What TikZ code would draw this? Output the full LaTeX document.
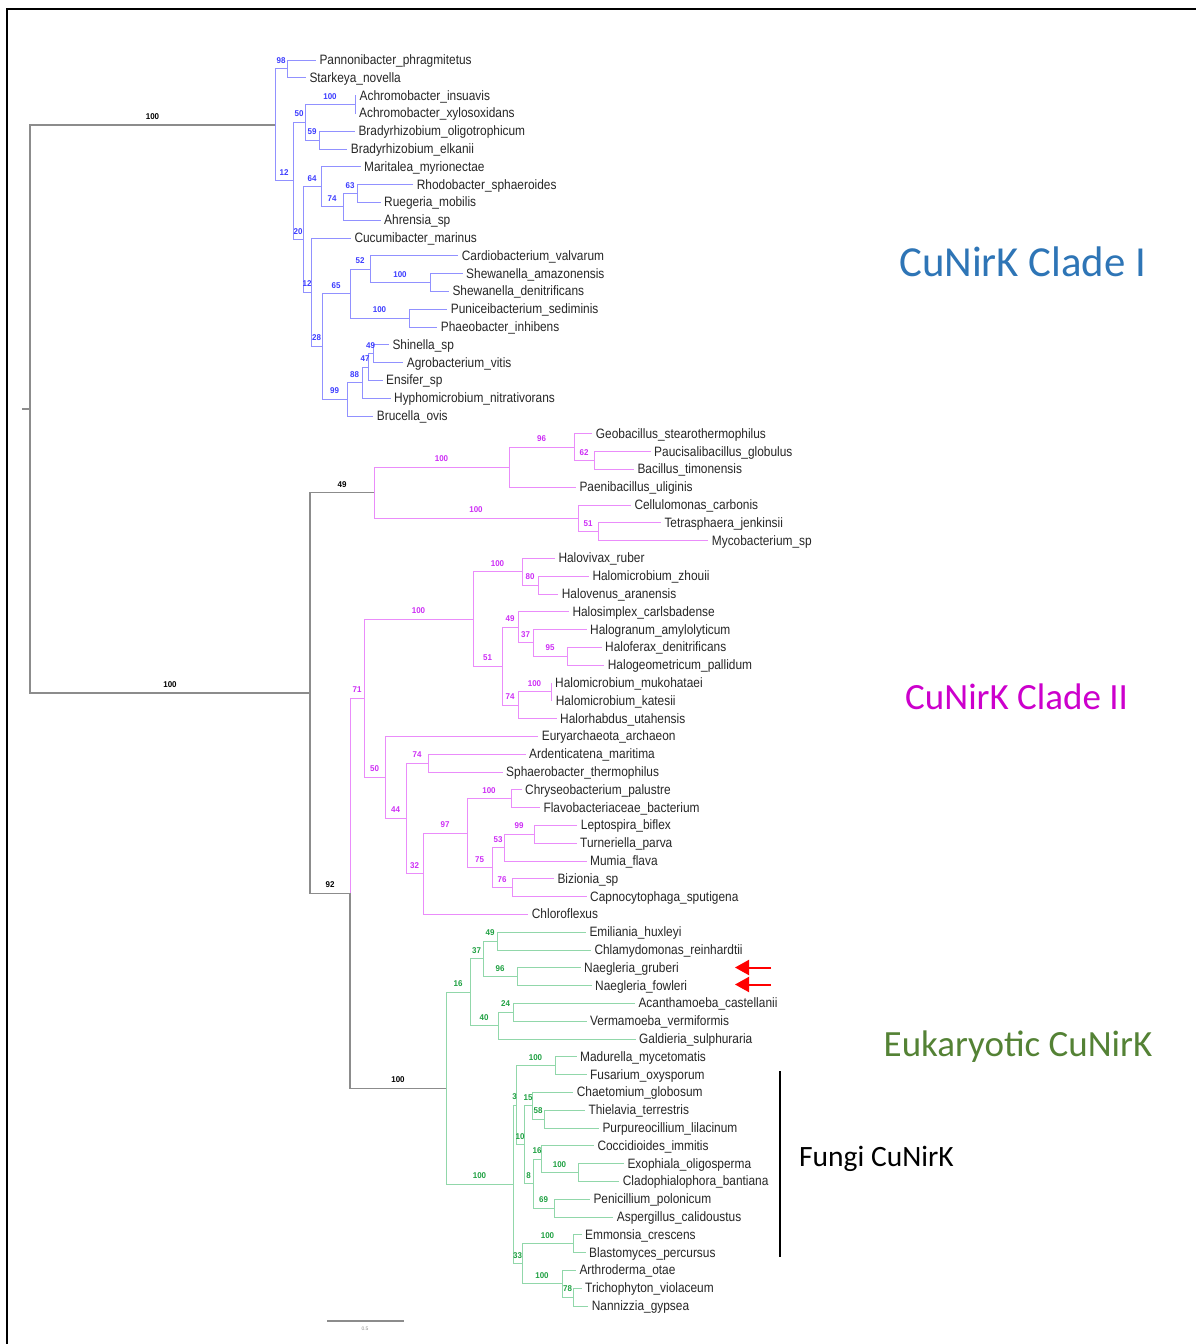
\documentclass[tikz,border=0pt]{standalone}
\usepackage{fontspec}
\setmainfont{Liberation Sans}
\newfontfamily\leaffont[FakeStretch=0.875]{Liberation Sans}
\newfontfamily\bsfont[FakeStretch=0.95]{Liberation Sans}
\newfontfamily\carlfont{Carlito}
\usetikzlibrary{arrows.meta}
\definecolor{eblue}{RGB}{145,145,255}
\definecolor{lblue}{RGB}{60,60,255}
\definecolor{emag}{RGB}{234,140,250}
\definecolor{lmag}{RGB}{205,45,245}
\definecolor{egreen}{RGB}{145,215,170}
\definecolor{lgreen}{RGB}{30,160,65}
\definecolor{egray}{RGB}{140,140,140}
\definecolor{tblue}{RGB}{46,117,182}
\definecolor{tmag}{RGB}{204,0,204}
\definecolor{tgreen}{RGB}{84,130,53}
\newcommand\leafat[4]{\node[leaf] (#1) at (#2,#3) {#4};}
\begin{document}
\begin{tikzpicture}[x=1pt,y=-1pt,
  leaf/.style={anchor=west,inner xsep=3.5pt,inner ysep=0pt,text height=9pt,text depth=0pt,
    font=\leaffont\fontsize{13.6}{16}\selectfont,text=black!85},
  br/.style={line width=1pt},
  eI/.style={br,draw=eblue}, eII/.style={br,draw=emag}, eE/.style={br,draw=egreen},
  eG/.style={br,draw=egray,line width=1.3pt},
  bs/.style={pos=0.25,yshift=8.5pt,inner sep=0pt,text height=6pt,text depth=0pt,
    font=\bsfont\bfseries\fontsize{8.4}{9}\selectfont},
  bI/.style={bs,text=lblue}, bII/.style={bs,text=lmag}, bE/.style={bs,text=lgreen}, bG/.style={bs,text=black},
  big/.style={anchor=west,inner sep=0pt,text depth=0pt},
  redarrow/.style={draw=red,line width=2pt,-{Triangle[length=14pt,width=15pt]}}
]
\useasboundingbox (0,0) rectangle (1196,1344);

% frame
\coordinate (fr1) at (7,1344);
\coordinate (fr2) at (7,9);
\coordinate (fr3) at (1196,9);
\draw[line width=2pt] (fr1) -- (fr2) -- (fr3);

% ---------- leaves ----------
\leafat{L1}{315.8}{60.0}{Pannonibacter\_phragmitetus}
\leafat{L2}{305.8}{77.8}{Starkeya\_novella}
\leafat{L3}{356.0}{95.6}{Achromobacter\_insuavis}
\leafat{L4}{355.5}{113.4}{Achromobacter\_xylosoxidans}
\leafat{L5}{354.8}{131.2}{Bradyrhizobium\_oligotrophicum}
\leafat{L6}{347.2}{149.0}{Bradyrhizobium\_elkanii}
\leafat{L7}{360.5}{166.8}{Maritalea\_myrionectae}
\leafat{L8}{413.2}{184.6}{Rhodobacter\_sphaeroides}
\leafat{L9}{380.5}{202.4}{Ruegeria\_mobilis}
\leafat{L10}{380.5}{220.2}{Ahrensia\_sp}
\leafat{L11}{350.8}{238.0}{Cucumibacter\_marinus}
\leafat{L12}{458.2}{255.8}{Cardiobacterium\_valvarum}
\leafat{L13}{462.5}{273.6}{Shewanella\_amazonensis}
\leafat{L14}{448.8}{291.4}{Shewanella\_denitrificans}
\leafat{L15}{447.2}{309.2}{Puniceibacterium\_sediminis}
\leafat{L16}{437.2}{327.0}{Phaeobacter\_inhibens}
\leafat{L17}{388.8}{344.8}{Shinella\_sp}
\leafat{L18}{403.2}{362.6}{Agrobacterium\_vitis}
\leafat{L19}{382.5}{380.4}{Ensifer\_sp}
\leafat{L20}{390.5}{398.2}{Hyphomicrobium\_nitrativorans}
\leafat{L21}{373.2}{416.0}{Brucella\_ovis}
\leafat{L22}{592.2}{433.8}{Geobacillus\_stearothermophilus}
\leafat{L23}{650.5}{451.6}{Paucisalibacillus\_globulus}
\leafat{L24}{633.8}{469.4}{Bacillus\_timonensis}
\leafat{L25}{575.8}{487.2}{Paenibacillus\_uliginis}
\leafat{L26}{630.8}{505.0}{Cellulomonas\_carbonis}
\leafat{L27}{660.8}{522.8}{Tetrasphaera\_jenkinsii}
\leafat{L28}{708.2}{540.6}{Mycobacterium\_sp}
\leafat{L29}{554.8}{558.4}{Halovivax\_ruber}
\leafat{L30}{588.8}{576.2}{Halomicrobium\_zhouii}
\leafat{L31}{558.2}{594.0}{Halovenus\_aranensis}
\leafat{L32}{568.8}{611.8}{Halosimplex\_carlsbadense}
\leafat{L33}{586.5}{629.6}{Halogranum\_amylolyticum}
\leafat{L34}{601.5}{647.4}{Haloferax\_denitrificans}
\leafat{L35}{604.2}{665.2}{Halogeometricum\_pallidum}
\leafat{L36}{551.5}{683.0}{Halomicrobium\_mukohataei}
\leafat{L37}{552.2}{700.8}{Halomicrobium\_katesii}
\leafat{L38}{556.5}{718.6}{Halorhabdus\_utahensis}
\leafat{L39}{538.2}{736.4}{Euryarchaeota\_archaeon}
\leafat{L40}{525.5}{754.2}{Ardenticatena\_maritima}
\leafat{L41}{502.5}{772.0}{Sphaerobacter\_thermophilus}
\leafat{L42}{521.5}{789.8}{Chryseobacterium\_palustre}
\leafat{L43}{539.8}{807.6}{Flavobacteriaceae\_bacterium}
\leafat{L44}{577.2}{825.4}{Leptospira\_biflex}
\leafat{L45}{576.5}{843.2}{Turneriella\_parva}
\leafat{L46}{586.5}{861.0}{Mumia\_flava}
\leafat{L47}{553.8}{878.8}{Bizionia\_sp}
\leafat{L48}{586.5}{896.6}{Capnocytophaga\_sputigena}
\leafat{L49}{528.2}{914.4}{Chloroflexus}
\leafat{L50}{585.8}{932.2}{Emiliania\_huxleyi}
\leafat{L51}{590.8}{950.0}{Chlamydomonas\_reinhardtii}
\leafat{L52}{580.5}{967.8}{Naegleria\_gruberi}
\leafat{L53}{591.5}{985.6}{Naegleria\_fowleri}
\leafat{L54}{634.8}{1003.4}{Acanthamoeba\_castellanii}
\leafat{L55}{586.5}{1021.2}{Vermamoeba\_vermiformis}
\leafat{L56}{635.5}{1039.0}{Galdieria\_sulphuraria}
\leafat{L57}{576.5}{1056.8}{Madurella\_mycetomatis}
\leafat{L58}{586.5}{1074.6}{Fusarium\_oxysporum}
\leafat{L59}{573.2}{1092.4}{Chaetomium\_globosum}
\leafat{L60}{584.8}{1110.2}{Thielavia\_terrestris}
\leafat{L61}{598.8}{1128.0}{Purpureocillium\_lilacinum}
\leafat{L62}{593.8}{1145.8}{Coccidioides\_immitis}
\leafat{L63}{623.8}{1163.6}{Exophiala\_oligosperma}
\leafat{L64}{619.2}{1181.4}{Cladophialophora\_bantiana}
\leafat{L65}{589.8}{1199.2}{Penicillium\_polonicum}
\leafat{L66}{613.2}{1217.0}{Aspergillus\_calidoustus}
\leafat{L67}{581.5}{1234.8}{Emmonsia\_crescens}
\leafat{L68}{585.5}{1252.6}{Blastomyces\_percursus}
\leafat{L69}{575.8}{1270.4}{Arthroderma\_otae}
\leafat{L70}{581.5}{1288.2}{Trichophyton\_violaceum}
\leafat{L71}{588.2}{1306.0}{Nannizzia\_gypsea}

% ---------- internal nodes ----------
\coordinate (Root) at (30,409.0);
\coordinate (rtick) at (22,409.0);
\coordinate (NI) at (275,124.9);
\coordinate (N98) at (287,68.9);
\coordinate (N100a) at (355,104.5);
\coordinate (N59) at (319,140.1);
\coordinate (N50) at (305,122.3);
\coordinate (N63) at (357,193.5);
\coordinate (N74) at (343,206.85);
\coordinate (N64) at (321,186.8);
\coordinate (N100b) at (430,282.5);
\coordinate (N52) at (370,269.15);
\coordinate (N100c) at (409,318.1);
\coordinate (N65) at (350,293.6);
\coordinate (N49a) at (373,353.7);
\coordinate (N47) at (368,367.05);
\coordinate (N88) at (362,382.6);
\coordinate (N99) at (347,399.3);
\coordinate (N28) at (322,346.45);
\coordinate (N12b) at (311,292.2);
\coordinate (N20) at (303,239.5);
\coordinate (N12a) at (293,180.9);

\coordinate (Nrest) at (310,693.05);
\coordinate (N62) at (594,460.5);
\coordinate (N96) at (574,447.15);
\coordinate (N100d) at (509,467.2);
\coordinate (N51) at (598,531.7);
\coordinate (N100e) at (578,518.35);
\coordinate (N49) at (374,492.8);
\coordinate (N80) at (538,585.1);
\coordinate (N100h) at (522,571.75);
\coordinate (N95) at (567,656.3);
\coordinate (N37) at (533,642.95);
\coordinate (N49b) at (518,627.4);
\coordinate (N100i) at (551,691.9);
\coordinate (N74b) at (518,705.25);
\coordinate (N51b) at (502,666.3);
\coordinate (N100g) at (473,619.0);
\coordinate (N74c) at (428,763.1);
\coordinate (N100j) at (511,798.7);
\coordinate (N99b) at (534,834.3);
\coordinate (N53) at (504,847.65);
\coordinate (N76) at (512,887.7);
\coordinate (N75) at (492,867.7);
\coordinate (N97) at (467,833.2);
\coordinate (N32) at (423,873.8);
\coordinate (N44) at (406,818.45);
\coordinate (N50b) at (385,777.4);
\coordinate (N71) at (364,698.2);
\coordinate (N92) at (350,893.3);

\coordinate (N49c) at (497,941.1);
\coordinate (N96b) at (517,976.7);
\coordinate (N37b) at (483,958.9);
\coordinate (N24) at (513,1012.3);
\coordinate (N40) at (498,1025.65);
\coordinate (N16) at (470,992.3);
\coordinate (N100l) at (555,1065.7);
\coordinate (N58) at (544,1119.1);
\coordinate (N15) at (532,1105.75);
\coordinate (N100m) at (578,1172.5);
\coordinate (N16c) at (541,1159.15);
\coordinate (N69) at (554,1208.1);
\coordinate (N8) at (533,1183.6);
\coordinate (N10) at (524,1144.7);
\coordinate (N3) at (516,1105.2);
\coordinate (N100n) at (573,1243.7);
\coordinate (N78) at (573,1297.1);
\coordinate (N100o) at (562,1283.75);
\coordinate (N33) at (522,1263.7);
\coordinate (N100k) at (513,1184.45);
\coordinate (N100f) at (446,1088.4);

% ---------- CuNirK clade I ----------
\draw[eI] (L1.west) -| (N98);
\draw[eI] (L2.west) -| (N98);
\draw[eI] (L3.west) -| (N100a);
\draw[eI] (L4.west) -| (N100a);
\draw[eI] (L5.west) -| (N59);
\draw[eI] (L6.west) -| (N59);
\draw[eI] (N100a) -| node[bI]{100} (N50);
\draw[eI] (N59) -| node[bI]{59} (N50);
\draw[eI] (L7.west) -| (N64);
\draw[eI] (L8.west) -| (N63);
\draw[eI] (L9.west) -| (N63);
\draw[eI] (N63) -| node[bI]{63} (N74);
\draw[eI] (L10.west) -| (N74);
\draw[eI] (N74) -| node[bI]{74} (N64);
\draw[eI] (L11.west) -| (N12b);
\draw[eI] (L12.west) -| (N52);
\draw[eI] (L13.west) -| (N100b);
\draw[eI] (L14.west) -| (N100b);
\draw[eI] (N100b) -| node[bI]{100} (N52);
\draw[eI] (L15.west) -| (N100c);
\draw[eI] (L16.west) -| (N100c);
\draw[eI] (N52) -| node[bI]{52} (N65);
\draw[eI] (N100c) -| node[bI]{100} (N65);
\draw[eI] (L17.west) -| (N49a);
\draw[eI] (L18.west) -| (N49a);
\draw[eI] (N49a) -| node[bI]{49} (N47);
\draw[eI] (L19.west) -| (N47);
\draw[eI] (N47) -| node[bI]{47} (N88);
\draw[eI] (L20.west) -| (N88);
\draw[eI] (N88) -| node[bI]{88} (N99);
\draw[eI] (L21.west) -| (N99);
\draw[eI] (N65) -| node[bI]{65} (N28);
\draw[eI] (N99) -| node[bI]{99} (N28);
\draw[eI] (N28) -| node[bI]{28} (N12b);
\draw[eI] (N64) -| node[bI]{64} (N20);
\draw[eI] (N12b) -| node[bI]{12} (N20);
\draw[eI] (N50) -| node[bI]{50} (N12a);
\draw[eI] (N20) -| node[bI]{20} (N12a);
\draw[eI] (N98) -| node[bI]{98} (NI);
\draw[eI] (N12a) -| node[bI]{12} (NI);

% ---------- CuNirK clade II ----------
\draw[eII] (L22.west) -| (N96);
\draw[eII] (L23.west) -| (N62);
\draw[eII] (L24.west) -| (N62);
\draw[eII] (N62) -| node[bII]{62} (N96);
\draw[eII] (N96) -| node[bII]{96} (N100d);
\draw[eII] (L25.west) -| (N100d);
\draw[eII] (L26.west) -| (N100e);
\draw[eII] (L27.west) -| (N51);
\draw[eII] (L28.west) -| (N51);
\draw[eII] (N51) -| node[bII]{51} (N100e);
\draw[eII] (N100d) -| node[bII]{100} (N49);
\draw[eII] (N100e) -| node[bII]{100} (N49);
\draw[eII] (L29.west) -| (N100h);
\draw[eII] (L30.west) -| (N80);
\draw[eII] (L31.west) -| (N80);
\draw[eII] (N80) -| node[bII]{80} (N100h);
\draw[eII] (L32.west) -| (N49b);
\draw[eII] (L33.west) -| (N37);
\draw[eII] (L34.west) -| (N95);
\draw[eII] (L35.west) -| (N95);
\draw[eII] (N95) -| node[bII]{95} (N37);
\draw[eII] (N37) -| node[bII]{37} (N49b);
\draw[eII] (L36.west) -| (N100i);
\draw[eII] (L37.west) -| (N100i);
\draw[eII] (N100i) -| node[bII]{100} (N74b);
\draw[eII] (L38.west) -| (N74b);
\draw[eII] (N49b) -| node[bII]{49} (N51b);
\draw[eII] (N74b) -| node[bII]{74} (N51b);
\draw[eII] (N100h) -| node[bII]{100} (N100g);
\draw[eII] (N51b) -| node[bII]{51} (N100g);
\draw[eII] (L39.west) -| (N50b);
\draw[eII] (L40.west) -| (N74c);
\draw[eII] (L41.west) -| (N74c);
\draw[eII] (L42.west) -| (N100j);
\draw[eII] (L43.west) -| (N100j);
\draw[eII] (L44.west) -| (N99b);
\draw[eII] (L45.west) -| (N99b);
\draw[eII] (N99b) -| node[bII]{99} (N53);
\draw[eII] (L46.west) -| (N53);
\draw[eII] (L47.west) -| (N76);
\draw[eII] (L48.west) -| (N76);
\draw[eII] (N53) -| node[bII]{53} (N75);
\draw[eII] (N76) -| node[bII]{76} (N75);
\draw[eII] (N100j) -| node[bII]{100} (N97);
\draw[eII] (N75) -| node[bII]{75} (N97);
\draw[eII] (N97) -| node[bII]{97} (N32);
\draw[eII] (L49.west) -| (N32);
\draw[eII] (N74c) -| node[bII]{74} (N44);
\draw[eII] (N32) -| node[bII]{32} (N44);
\draw[eII] (N44) -| node[bII]{44} (N50b);
\draw[eII] (N100g) -| node[bII]{100} (N71);
\draw[eII] (N50b) -| node[bII]{50} (N71);
\draw[eII] (N71) -| node[bII]{71} (N92);

% ---------- eukaryotic CuNirK ----------
\draw[eE] (L50.west) -| (N49c);
\draw[eE] (L51.west) -| (N49c);
\draw[eE] (L52.west) -| (N96b);
\draw[eE] (L53.west) -| (N96b);
\draw[eE] (N49c) -| node[bE]{49} (N37b);
\draw[eE] (N96b) -| node[bE]{96} (N37b);
\draw[eE] (L54.west) -| (N24);
\draw[eE] (L55.west) -| (N24);
\draw[eE] (N24) -| node[bE]{24} (N40);
\draw[eE] (L56.west) -| (N40);
\draw[eE] (N37b) -| node[bE]{37} (N16);
\draw[eE] (N40) -| node[bE]{40} (N16);
\draw[eE] (L57.west) -| (N100l);
\draw[eE] (L58.west) -| (N100l);
\draw[eE] (L59.west) -| (N15);
\draw[eE] (L60.west) -| (N58);
\draw[eE] (L61.west) -| (N58);
\draw[eE] (N58) -| node[bE]{58} (N15);
\draw[eE] (L62.west) -| (N16c);
\draw[eE] (L63.west) -| (N100m);
\draw[eE] (L64.west) -| (N100m);
\draw[eE] (N100m) -| node[bE]{100} (N16c);
\draw[eE] (L65.west) -| (N69);
\draw[eE] (L66.west) -| (N69);
\draw[eE] (N16c) -| node[bE]{16} (N8);
\draw[eE] (N69) -| node[bE]{69} (N8);
\draw[eE] (N15) -| node[bE]{15} (N10);
\draw[eE] (N8) -| node[bE]{8} (N10);
\draw[eE] (N100l) -| node[bE]{100} (N3);
\draw[eE] (N10) -| node[bE]{10} (N3);
\draw[eE] (L67.west) -| (N100n);
\draw[eE] (L68.west) -| (N100n);
\draw[eE] (L69.west) -| (N100o);
\draw[eE] (L70.west) -| (N78);
\draw[eE] (L71.west) -| (N78);
\draw[eE] (N78) -| node[bE]{78} (N100o);
\draw[eE] (N100n) -| node[bE]{100} (N33);
\draw[eE] (N100o) -| node[bE]{100} (N33);
\draw[eE] (N3) -| node[bE]{3} (N100k);
\draw[eE] (N33) -| node[bE]{33} (N100k);
\draw[eE] (N16) -| node[bE]{16} (N100f);
\draw[eE] (N100k) -| node[bE]{100} (N100f);

% ---------- backbone ----------
\draw[eG] (N100f) -| node[bG]{100} (N92);
\draw[eG] (N49) -| node[bG]{49} (Nrest);
\draw[eG] (N92) -| node[bG]{92} (Nrest);
\draw[eG] (NI) -| node[bG]{100} (Root);
\draw[eG] (Nrest) -| node[bG]{100} (Root);
\draw[eG] (rtick) -- (Root);

% ---------- clade names ----------
\node[big,text=tblue,text height=27.4pt,font=\carlfont\fontsize{42.8}{50}\selectfont] (cladeI) at (899,263) {CuNirK Clade I};
\node[big,text=tmag,text height=23.7pt,font=\carlfont\fontsize{37}{44}\selectfont] (cladeII) at (905,698) {CuNirK Clade II};
\node[big,text=tgreen,text height=23.7pt,font=\carlfont\fontsize{37}{44}\selectfont] (euk) at (883.5,1045) {Eukaryotic CuNirK};
\node[big,text=black,text height=19pt,font=\carlfont\fontsize{29.5}{35}\selectfont] (fungi) at (799,1157) {Fungi CuNirK};

% fungi bracket
\coordinate (fb1) at (780,1071);
\coordinate (fb2) at (780,1257);
\draw[line width=2pt] (fb1) -- (fb2);

% arrows pointing at Naegleria
\coordinate (a1s) at (771,967.5);
\coordinate (a1e) at (735,967.5);
\coordinate (a2s) at (771,984.5);
\coordinate (a2e) at (735,984.5);
\draw[redarrow] (a1s) -- (a1e);
\draw[redarrow] (a2s) -- (a2e);

% scale bar
\coordinate (sb1) at (327,1321);
\coordinate (sb2) at (404,1321);
\draw[egray,line width=2pt] (sb1) -- (sb2);
\node[inner sep=0pt,text=egray,font=\fontsize{5}{6}\selectfont] (sbl) at (365,1328.5) {0.5};
\end{tikzpicture}
\end{document}
